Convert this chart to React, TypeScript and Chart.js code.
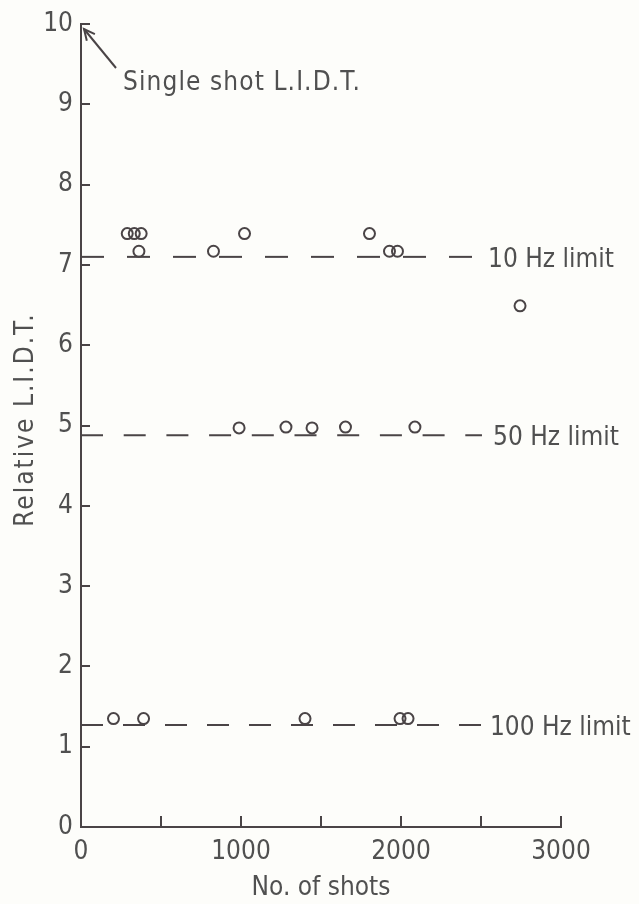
import React, { useEffect, useRef } from 'react';
import { Chart, registerables } from 'chart.js';

Chart.register(...registerables);

// ---- data ----
const hz10Shots = [289, 333, 376, 362, 828, 1022, 1803, 1928, 1978, 2744];
const hz10Lidt = [7.39, 7.39, 7.39, 7.17, 7.17, 7.39, 7.39, 7.17, 7.17, 6.49];
const hz50Shots = [988, 1281, 1444, 1653, 2087];
const hz50Lidt = [4.97, 4.98, 4.97, 4.98, 4.98];
const hz100Shots = [203, 391, 1400, 1994, 2044];
const hz100Lidt = [1.35, 1.35, 1.35, 1.35, 1.35];

const limitLabels = ['10 Hz limit', '50 Hz limit', '100 Hz limit'];
const limitLevels = [7.1, 4.88, 1.27];
const limitEnds = [2444, 2506, 2512];
const limitLabelX = [2544, 2575, 2556];

const singleShotLabel = 'Single shot L.I.D.T.';
const singleShotValue = 10;
const xTitle = 'No. of shots';
const yTitle = 'Relative L.I.D.T.';
const xRange = [0, 3000];
const yRange = [0, 10];
const xStep = 500;
const xLabelStep = 1000;
const yStep = 1;

// ---- style ----
const FONT = "'DejaVu Sans Condensed', 'DejaVu Sans', sans-serif";
const INK = '#4a4446';
const TEXT = '#505050';
const BG = '#fdfdfa';
const limitDashes = [
  [23, 23],
  [22, 20.7],
  [22, 20],
];

const annotate = {
  id: 'annotate',
  afterDatasetsDraw(chart: any) {
    const { ctx } = chart;
    const x = chart.scales.x;
    const y = chart.scales.y;
    ctx.save();
    ctx.strokeStyle = INK;
    ctx.lineWidth = 2;
    ctx.setLineDash([]);
    // inward tick marks
    x.ticks.forEach((t: any) => {
      const px = Math.round(x.getPixelForValue(t.value));
      ctx.beginPath();
      ctx.moveTo(px, y.bottom);
      ctx.lineTo(px, y.bottom - 11);
      ctx.stroke();
    });
    y.ticks.forEach((t: any) => {
      const py = Math.round(y.getPixelForValue(t.value));
      ctx.beginPath();
      ctx.moveTo(x.left, py);
      ctx.lineTo(x.left + 9, py);
      ctx.stroke();
    });
    // limit labels
    ctx.fillStyle = TEXT;
    ctx.font = `26px ${FONT}`;
    ctx.textAlign = 'left';
    ctx.textBaseline = 'alphabetic';
    limitLabels.forEach((s, i) => {
      ctx.fillText(s, x.getPixelForValue(limitLabelX[i]), y.getPixelForValue(limitLevels[i]) + 10);
    });
    // single shot annotation with arrow
    const tipX = x.getPixelForValue(xRange[0]) + 3;
    const tipY = y.getPixelForValue(singleShotValue) + 5;
    const tailX = tipX + 32;
    const tailY = tipY + 39;
    ctx.beginPath();
    ctx.moveTo(tailX, tailY);
    ctx.lineTo(tipX, tipY);
    ctx.stroke();
    const ang = Math.atan2(tailY - tipY, tailX - tipX);
    const w = 0.45;
    const len = 12;
    ctx.beginPath();
    ctx.moveTo(tipX + len * Math.cos(ang - w), tipY + len * Math.sin(ang - w));
    ctx.lineTo(tipX, tipY);
    ctx.lineTo(tipX + len * Math.cos(ang + w), tipY + len * Math.sin(ang + w));
    ctx.stroke();
    (ctx as any).letterSpacing = '1.1px';
    ctx.fillText(singleShotLabel, tailX + 7, tailY + 22);
    // y axis title (rotated)
    (ctx as any).letterSpacing = '2px';
    const midY = (y.top + y.bottom) / 2 - 6;
    ctx.translate(33, midY);
    ctx.rotate(-Math.PI / 2);
    ctx.textAlign = 'center';
    ctx.fillText(yTitle, 0, 0);
    ctx.restore();
  },
};

const pointStyle = {
  showLine: false,
  pointStyle: 'circle' as const,
  pointRadius: 5.5,
  pointBorderWidth: 2,
  pointBorderColor: INK,
  pointBackgroundColor: 'rgba(0,0,0,0)',
};

const toXY = (xs: number[], ys: number[]) => xs.map((v, i) => ({ x: v, y: ys[i] }));

export default function App() {
  const ref = useRef<HTMLCanvasElement | null>(null);

  useEffect(() => {
    if (!ref.current) return;
    const limitSets = limitLevels.map((lvl, i) => ({
      label: limitLabels[i],
      data: [
        { x: xRange[0], y: lvl },
        { x: limitEnds[i], y: lvl },
      ],
      showLine: true,
      borderColor: INK,
      borderWidth: 2,
      borderDash: limitDashes[i],
      pointRadius: 0,
      fill: false,
    }));
    const chart = new Chart(ref.current, {
      type: 'scatter',
      data: {
        datasets: [
          ...limitSets,
          { label: '10 Hz', data: toXY(hz10Shots, hz10Lidt), ...pointStyle },
          { label: '50 Hz', data: toXY(hz50Shots, hz50Lidt), ...pointStyle },
          { label: '100 Hz', data: toXY(hz100Shots, hz100Lidt), ...pointStyle },
        ] as any,
      },
      options: {
        responsive: false,
        animation: false,
        layout: { padding: { top: 24, right: 78, left: 0, bottom: 0 } },
        plugins: { legend: { display: false }, tooltip: { enabled: false } },
        scales: {
          x: {
            type: 'linear',
            min: xRange[0],
            max: xRange[1],
            afterFit: (s: any) => {
              s.height = 77;
            },
            grid: { display: false, drawTicks: false },
            border: { display: true, color: INK, width: 2 },
            ticks: {
              stepSize: xStep,
              autoSkip: false,
              maxRotation: 0,
              padding: 10,
              color: TEXT,
              font: { family: FONT, size: 26, lineHeight: 1.2 },
              callback: (v: any) => (Number(v) % xLabelStep === 0 ? String(v) : ''),
            },
            title: {
              display: true,
              text: xTitle,
              color: TEXT,
              font: { family: FONT, size: 26, lineHeight: 1.2 },
              padding: { top: 0, bottom: 0 },
            },
          },
          y: {
            type: 'linear',
            min: yRange[0],
            max: yRange[1],
            afterFit: (s: any) => {
              s.width = 81;
            },
            grid: { display: false, drawTicks: false },
            border: { display: true, color: INK, width: 2 },
            ticks: {
              stepSize: yStep,
              autoSkip: false,
              padding: 8,
              color: TEXT,
              font: { family: FONT, size: 26, lineHeight: 1.2 },
            },
            title: { display: false, text: yTitle },
          },
        },
      },
      plugins: [annotate],
    } as any);
    return () => chart.destroy();
  }, []);

  return (
    <div style={{ position: 'fixed', left: 0, top: 0, width: 639, height: 904, background: BG }}>
      <canvas ref={ref} width={639} height={904} style={{ display: 'block', width: 639, height: 904 }} />
    </div>
  );
}
